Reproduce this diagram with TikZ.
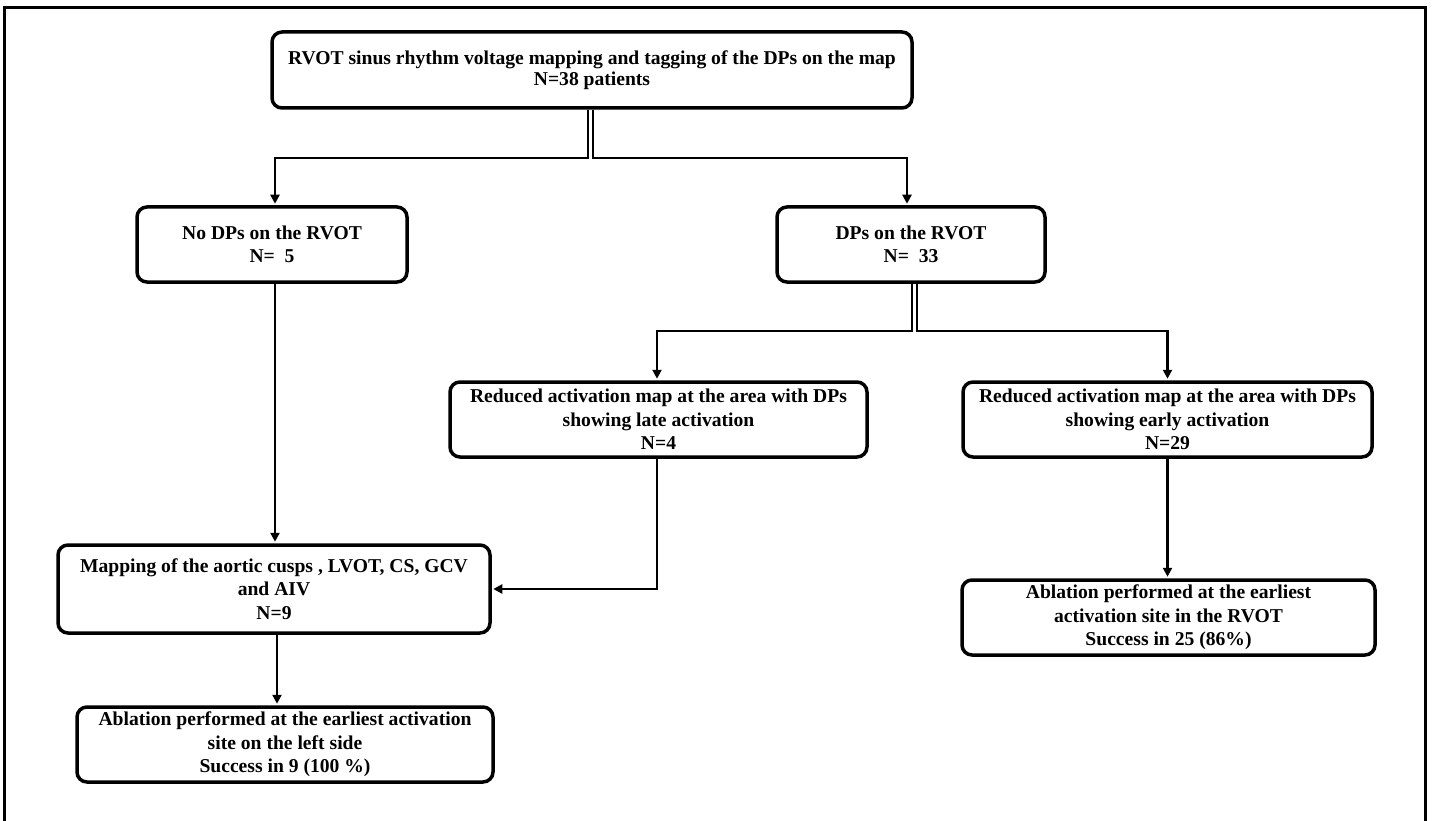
\documentclass[tikz,border=0pt]{standalone}
\usepackage{fontspec}
\setmainfont{Liberation Serif}
\usetikzlibrary{arrows.meta}
\begin{document}
\begin{tikzpicture}[x=1pt,y=-1pt,
    box/.style={draw,line width=3.5pt,rounded corners=10pt,align=center,inner sep=0pt,
      minimum height=75pt,font=\bfseries\fontsize{19.6}{23.5}\selectfont},
    ln/.style={line width=2.4pt},
    arr/.style={ln,shorten >=1.5pt,-{Triangle[length=9pt,width=9pt]}}]
    \useasboundingbox (0,0) rectangle (1432,821);
    \draw[line width=3pt] (4,840) -- (4,8) -- (1425,8) -- (1425,840);

    \node[box,minimum width=640pt,minimum height=76pt,font=\bfseries\fontsize{19.6}{20.5}\selectfont] (top) at (592,70)
        {RVOT sinus rhythm voltage mapping and tagging of the DPs on the map\\N=38 patients};
    \node[box,minimum width=270pt] (nodp) at (272,244.5) {No DPs on the RVOT\\N=\ \ 5};
    \node[box,minimum width=268pt] (dp) at (911,244.5) {DPs on the RVOT\\N=\ \ 33};
    \node[box,minimum width=417pt] (late) at (658.5,419.5)
        {Reduced activation map at the area with DPs\\showing late activation\\N=4};
    \node[box,minimum width=409pt] (early) at (1167.5,419.5)
        {Reduced activation map at the area with DPs\\showing early activation\\N=29};
    \node[box,minimum width=432pt,minimum height=88pt] (map) at (274,589)
        {Mapping of the aortic cusps , LVOT, CS, GCV\\and AIV\\N=9};
    \node[box,minimum width=416pt] (ablL) at (285,744.5)
        {Ablation performed at the earliest activation\\site on the left side\\Success in 9 (100 \%)};
    \node[box,minimum width=413pt] (ablR) at (1168.5,617.5)
        {Ablation performed at the earliest\\activation site in the RVOT\\Success in 25 (86\%)};

    \coordinate (ta) at (588,158);
    \coordinate (tb) at (593,158);
    \coordinate (da) at (912,331);
    \coordinate (db) at (917,331);

    \draw[arr] (ta |- top.south) -- (ta) -| ([xshift=3pt]nodp.north);
    \draw[arr] (tb |- top.south) -- (tb) -| ([xshift=-4pt]dp.north);
    \draw[arr] (da |- dp.south) -- (da) -| ([xshift=-1.5pt]late.north);
    \draw[arr] (db |- dp.south) -- (db) -| (early.north);
    \draw[arr] ([xshift=3pt]nodp.south) -- ([xshift=3pt]nodp.south |- map.north);
    \draw[arr] ([xshift=-1.5pt]late.south) |- (map.east);
    \draw[arr] (early.south) -- (early.south |- ablR.north);
    \draw[arr] ([xshift=3pt]map.south) -- ([xshift=3pt]map.south |- ablL.north);
\end{tikzpicture}
\end{document}
